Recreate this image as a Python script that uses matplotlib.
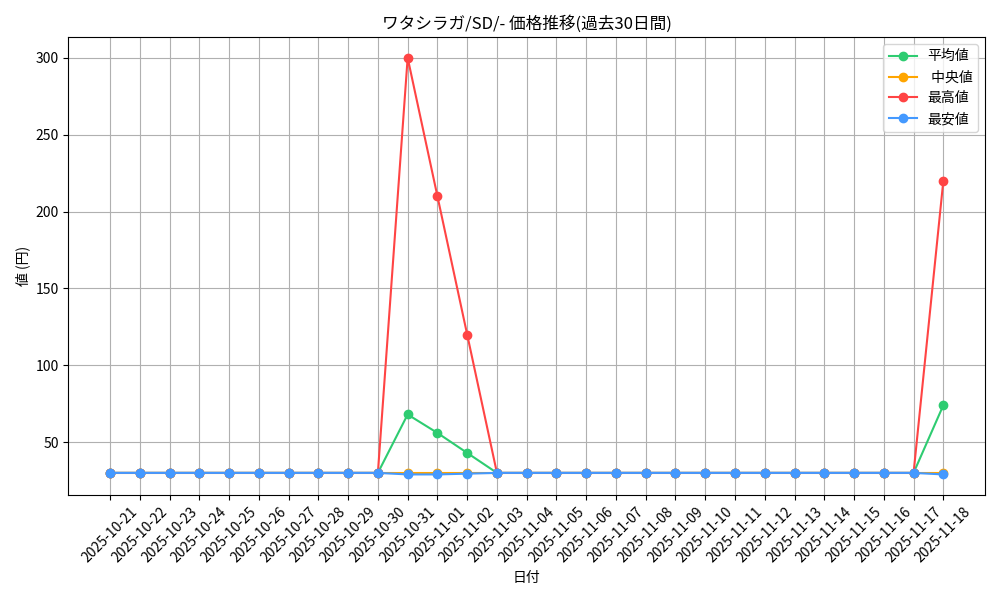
import matplotlib
matplotlib.use("Agg")
import matplotlib.pyplot as plt
import pandas as pd

plt.rcParams['font.family'] = ['Noto Sans CJK JP', 'DejaVu Sans']

dates = pd.date_range("2025-10-21", "2025-11-18").strftime("%Y-%m-%d").tolist()

mean_vals = [30]*10 + [68, 56, 43] + [30]*15 + [74]
median_vals = [30]*29
max_vals = [30]*10 + [300, 210, 120] + [30]*15 + [220]
min_vals = [30]*10 + [29, 29, 29.5] + [30]*15 + [29]

fig, ax = plt.subplots(figsize=(10, 6), dpi=100)
ax.plot(dates, mean_vals, marker='o', color='#2ecc71', label='平均値')
ax.plot(dates, median_vals, marker='o', color='#ffa500', label=' 中央値')
ax.plot(dates, max_vals, marker='o', color='#ff4444', label='最高値')
ax.plot(dates, min_vals, marker='o', color='#4499ff', label='最安値')

ax.set_title('ワタシラガ/SD/- 価格推移(過去30日間)')
ax.set_xlabel('日付')
ax.set_ylabel('値 (円)')
ax.grid(True)
ax.legend(loc='upper right')
plt.setp(ax.get_xticklabels(), rotation=45, ha='center')
fig.tight_layout()
fig.savefig('out.png')
